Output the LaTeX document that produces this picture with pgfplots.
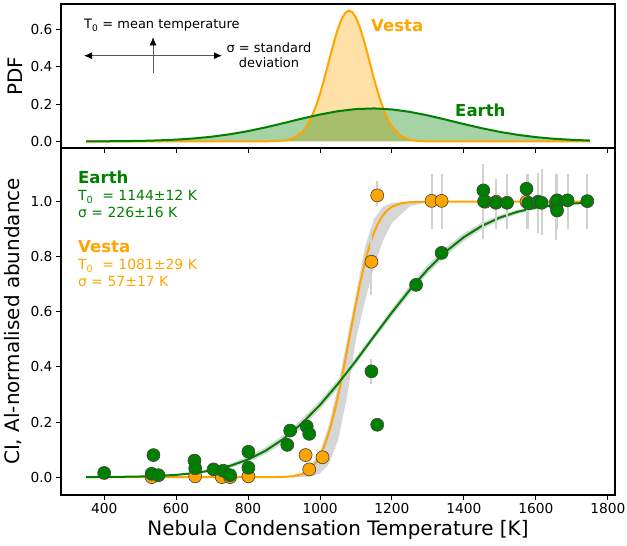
\documentclass[border=0pt]{standalone}
\usepackage{fontspec}
\setmainfont{DejaVu Sans}
\usepackage{pgfplots}
\pgfplotsset{compat=1.18}
\usetikzlibrary{arrows.meta}
\definecolor{mplorange}{HTML}{FFA500}
\definecolor{mplgreen}{HTML}{008000}
\newcommand\tk{\fontsize{13.8}{16}\selectfont}
\newcommand\lab{\fontsize{20}{24}\selectfont}
\newcommand\ann{\fontsize{13}{15}\selectfont}
\newcommand\prm{\fontsize{14}{16}\selectfont}
\newcommand\bl{\fontsize{16.6}{19}\selectfont\bfseries}
\pgfplotsset{
  common/.style={
    scale only axis, width=554bp, xmin=280, xmax=1820,
    xtick={400,600,800,1000,1200,1400,1600,1800},
    tick align=outside, xtick pos=left, ytick pos=left,
    major tick length=5bp,
    tick style={black, line width=1bp},
    axis line style={black, line width=1.1bp},
    tick label style={font=\tk},
    /pgf/number format/assume math mode=true,
    /pgf/number format/1000 sep={},
    yticklabel style={/pgf/number format/.cd, fixed, fixed zerofill, precision=1},
    ylabel style={font=\lab},
    xlabel style={font=\lab},
  }
}
\begin{document}
\begin{tikzpicture}
\useasboundingbox (0,0) rectangle (627bp,546bp);
% ---------------- top axis: PDFs ----------------
\begin{axis}[common, at={(61bp,398bp)}, anchor=south west, height=144bp,
  ymin=-0.035, ymax=0.735, ytick={0,0.2,0.4,0.6}, xticklabels={},
  ylabel={PDF}, ylabel style={at={(axis description cs:0,0.5)}, anchor=center, yshift=46bp}]
\addplot[draw=none, fill=mplorange, fill opacity=0.35] coordinates {
(350,0) (850,0.0002) (900,0.0045) (925,0.0165) (950,0.0499) (960,0.0736) (975,0.1242) (990,0.1957) (1000,0.2550) (1010,0.3222) (1020,0.3948) (1030,0.4690) (1040,0.5404) (1050,0.6037) (1060,0.6540) (1070,0.6870) (1080,0.6998) (1090,0.6912) (1100,0.6621) (1110,0.6150) (1120,0.5539) (1130,0.4837) (1140,0.4097) (1150,0.3364) (1160,0.2679) (1170,0.2068) (1180,0.1549) (1190,0.1125) (1200,0.0792) (1225,0.0288) (1250,0.0086) (1275,0.0021) (1300,0.0004) (1750,0)
} \closedcycle;
\addplot[draw=none, fill=mplgreen, fill opacity=0.35] coordinates {
(350,0.0004) (400,0.0008) (450,0.0016) (500,0.0030) (550,0.0056) (600,0.0097) (650,0.0162) (700,0.0256) (750,0.0386) (800,0.0554) (850,0.0757) (900,0.0985) (950,0.1222) (1000,0.1441) (1050,0.1619) (1100,0.1732) (1150,0.1765) (1200,0.1712) (1250,0.1581) (1300,0.1391) (1350,0.1165) (1400,0.0929) (1450,0.0706) (1500,0.0511) (1550,0.0352) (1600,0.0230) (1650,0.0144) (1700,0.0086) (1750,0.0049)
} \closedcycle;
\addplot[mplorange, line width=2bp] coordinates {
(350,0) (850,0.0002) (900,0.0045) (925,0.0165) (950,0.0499) (960,0.0736) (975,0.1242) (990,0.1957) (1000,0.2550) (1010,0.3222) (1020,0.3948) (1030,0.4690) (1040,0.5404) (1050,0.6037) (1060,0.6540) (1070,0.6870) (1080,0.6998) (1090,0.6912) (1100,0.6621) (1110,0.6150) (1120,0.5539) (1130,0.4837) (1140,0.4097) (1150,0.3364) (1160,0.2679) (1170,0.2068) (1180,0.1549) (1190,0.1125) (1200,0.0792) (1225,0.0288) (1250,0.0086) (1275,0.0021) (1300,0.0004) (1750,0)
};
\addplot[mplgreen, line width=2bp] coordinates {
(350,0.0004) (400,0.0008) (450,0.0016) (500,0.0030) (550,0.0056) (600,0.0097) (650,0.0162) (700,0.0256) (750,0.0386) (800,0.0554) (850,0.0757) (900,0.0985) (950,0.1222) (1000,0.1441) (1050,0.1619) (1100,0.1732) (1150,0.1765) (1200,0.1712) (1250,0.1581) (1300,0.1391) (1350,0.1165) (1400,0.0929) (1450,0.0706) (1500,0.0511) (1550,0.0352) (1600,0.0230) (1650,0.0144) (1700,0.0086) (1750,0.0049)
};
\end{axis}
% ---------------- bottom axis: abundances ----------------
\begin{axis}[common, at={(61bp,51bp)}, anchor=south west, height=347bp,
  ymin=-0.065, ymax=1.195, ytick={0,0.2,0.4,0.6,0.8,1.0},
  xlabel={Nebula Condensation Temperature [K]},
  xlabel style={at={(axis description cs:0.5,0)}, anchor=center, yshift=-35bp},
  ylabel={CI, Al-normalised abundance},
  ylabel style={at={(axis description cs:0,0.5)}, anchor=center, yshift=48bp}]
% uncertainty bands
\addplot[draw=none, fill=black!16] coordinates {
(350,0.0004) (400,0.0008) (450,0.0016) (500,0.0032) (550,0.0060) (600,0.0108) (650,0.0185) (700,0.0306) (750,0.0487) (800,0.0744) (850,0.1092) (900,0.1546) (950,0.2110) (1000,0.2776) (1050,0.3535) (1100,0.4356) (1150,0.5219) (1200,0.6119) (1250,0.6963) (1300,0.7713) (1350,0.8345) (1400,0.8853) (1450,0.9238) (1500,0.9516) (1550,0.9706) (1600,0.9830) (1650,0.9906) (1700,0.9950) (1750,0.9975)
(1750,0.9948) (1700,0.9906) (1650,0.9837) (1600,0.9728) (1550,0.9563) (1500,0.9327) (1450,0.9001) (1400,0.8573) (1350,0.8037) (1300,0.7392) (1250,0.6654) (1200,0.5846) (1150,0.5000) (1100,0.4094) (1050,0.3231) (1000,0.2457) (950,0.1796) (900,0.1257) (850,0.0844) (800,0.0541) (750,0.0333) (700,0.0195) (650,0.0109) (600,0.0058) (550,0.0030) (500,0.0014) (450,0.0007) (400,0.0003) (350,0.0001)
};
\addplot[draw=none, fill=black!16] coordinates {
(900,0.0011) (950,0.0142) (975,0.0397) (1000,0.0941) (1025,0.1902) (1050,0.3305) (1075,0.5000) (1100,0.6636) (1125,0.8359) (1150,0.9374) (1175,0.9816) (1200,0.9959) (1250,0.9999) (1300,1.0000)
(1300,0.9979) (1250,0.9839) (1200,0.9234) (1175,0.8580) (1150,0.7625) (1125,0.6395) (1100,0.5000) (1075,0.2893) (1050,0.1333) (1025,0.0478) (1000,0.0131) (975,0.0027) (950,0.0004) (900,0.0000)
};
% fitted curves
\addplot[mplorange, line width=2bp] coordinates {
(350,0) (800,0) (850,0.00003) (900,0.0008) (925,0.0031) (950,0.0108) (960,0.0169) (975,0.0315) (990,0.0552) (1000,0.0777) (1010,0.1065) (1020,0.1423) (1030,0.1855) (1040,0.2361) (1050,0.2933) (1060,0.3564) (1070,0.4235) (1080,0.4930) (1090,0.5627) (1100,0.6304) (1110,0.6946) (1120,0.7530) (1130,0.8050) (1140,0.8497) (1150,0.8870) (1160,0.9171) (1170,0.9408) (1180,0.9588) (1190,0.9721) (1200,0.9816) (1225,0.9942) (1250,0.9985) (1300,0.9999) (1750,1)
};
\addplot[mplgreen, line width=2bp] coordinates {
(350,0.0002) (400,0.0005) (450,0.0011) (500,0.0022) (550,0.0043) (600,0.0080) (650,0.0144) (700,0.0247) (750,0.0407) (800,0.0640) (850,0.0966) (900,0.1401) (950,0.1955) (1000,0.2621) (1050,0.3387) (1100,0.4227) (1150,0.5108) (1200,0.5979) (1250,0.6805) (1300,0.7549) (1350,0.8191) (1400,0.8714) (1450,0.9121) (1500,0.9424) (1550,0.9638) (1600,0.9782) (1650,0.9874) (1700,0.9931) (1750,0.9963)
};
% error bars
\addplot[draw=none, mark=none, forget plot, error bars/.cd, y dir=both, y explicit, error mark=none,
  error bar style={draw=black!18, line width=2bp}] coordinates {
(909,0.117) +- (0,0.025)
(1143,0.384) +- (0,0.045)
(1143,0.782) +- (0,0.12)
(1159,1.030) +- (0,0.045)
(1310,1.000) +- (0,0.10)
(1338,1.000) +- (0,0.10)
(1454,1.000) +- (0,0.137)
(1489,0.992) +- (0,0.092)
(1520,1.000) +- (0,0.10)
(1574,1.000) +- (0,0.10)
(1579,1.000) +- (0,0.10)
(1606,0.995) +- (0,0.11)
(1616,1.000) +- (0,0.12)
(1656,0.980) +- (0,0.12)
(1659,1.000) +- (0,0.10)
(1688,1.000) +- (0,0.10)
(1743,1.000) +- (0,0.10)
};
% Vesta points
\addplot[only marks, mark=*, mark size=6.5bp, mark options={fill=mplorange, draw=black!75, line width=0.6bp}] coordinates {
(532,0.0) (653,0.003) (727,0.0) (750,0.0) (801,0.003) (960,0.080) (970,0.028) (1007,0.072) (1143,0.782) (1159,1.023) (1310,1.003) (1338,1.003) (1460,1.0) (1490,1.0) (1574,1.0) (1656,1.0)
};
% Earth points
\addplot[only marks, mark=*, mark size=6.5bp, mark options={fill=mplgreen, draw=black!75, line width=0.6bp}] coordinates {
(400,0.015) (532,0.012) (537,0.080) (551,0.007) (651,0.060) (653,0.032) (704,0.028) (731,0.023) (750,0.007) (801,0.092) (801,0.034) (909,0.117) (917,0.169) (963,0.184) (970,0.157) (1143,0.384) (1159,0.190) (1267,0.698) (1338,0.814) (1454,1.041) (1456,1.001) (1489,0.996) (1520,0.996) (1574,1.047) (1579,0.995) (1606,1.000) (1616,0.996) (1656,0.986) (1659,1.005) (1659,0.968) (1688,1.005) (1743,1.002)
};
\end{axis}
% ---------------- annotations ----------------
\draw[gray!70!black, line width=0.8bp, {Latex[length=8bp,width=7bp,black]}-{Latex[length=8bp,width=7bp,black]}] (84bp,490.3bp) -- (222bp,490.3bp);
\draw[gray!70!black, line width=0.8bp, -{Latex[length=8bp,width=7bp,black]}] (153bp,473.3bp) -- (153bp,508.7bp);
\node[anchor=base west, inner sep=0pt, font=\ann] at (84bp,517bp) {T\textsubscript{0} = mean temperature};
\node[anchor=base, inner sep=0pt, font=\ann] at (269bp,493bp) {σ = standard};
\node[anchor=base, inner sep=0pt, font=\ann] at (269bp,478bp) {deviation};
\node[anchor=base west, inner sep=0pt, font=\bl, text=mplorange] at (371bp,514bp) {Vesta};
\node[anchor=base west, inner sep=0pt, font=\bl, text=mplgreen] at (455bp,429bp) {Earth};
\node[anchor=base west, inner sep=0pt, font=\bl, text=mplgreen] at (78bp,362bp) {Earth};
\node[anchor=base west, inner sep=0pt, font=\prm, text=mplgreen] at (78bp,345bp) {T\textsubscript{0} \ = 1144±12 K};
\node[anchor=base west, inner sep=0pt, font=\prm, text=mplgreen] at (78bp,328bp) {σ = 226±16 K};
\node[anchor=base west, inner sep=0pt, font=\bl, text=mplorange] at (78bp,293bp) {Vesta};
\node[anchor=base west, inner sep=0pt, font=\prm, text=mplorange] at (78bp,276bp) {T\textsubscript{0} \ = 1081±29 K};
\node[anchor=base west, inner sep=0pt, font=\prm, text=mplorange] at (78bp,259bp) {σ = 57±17 K};
\end{tikzpicture}
\end{document}
